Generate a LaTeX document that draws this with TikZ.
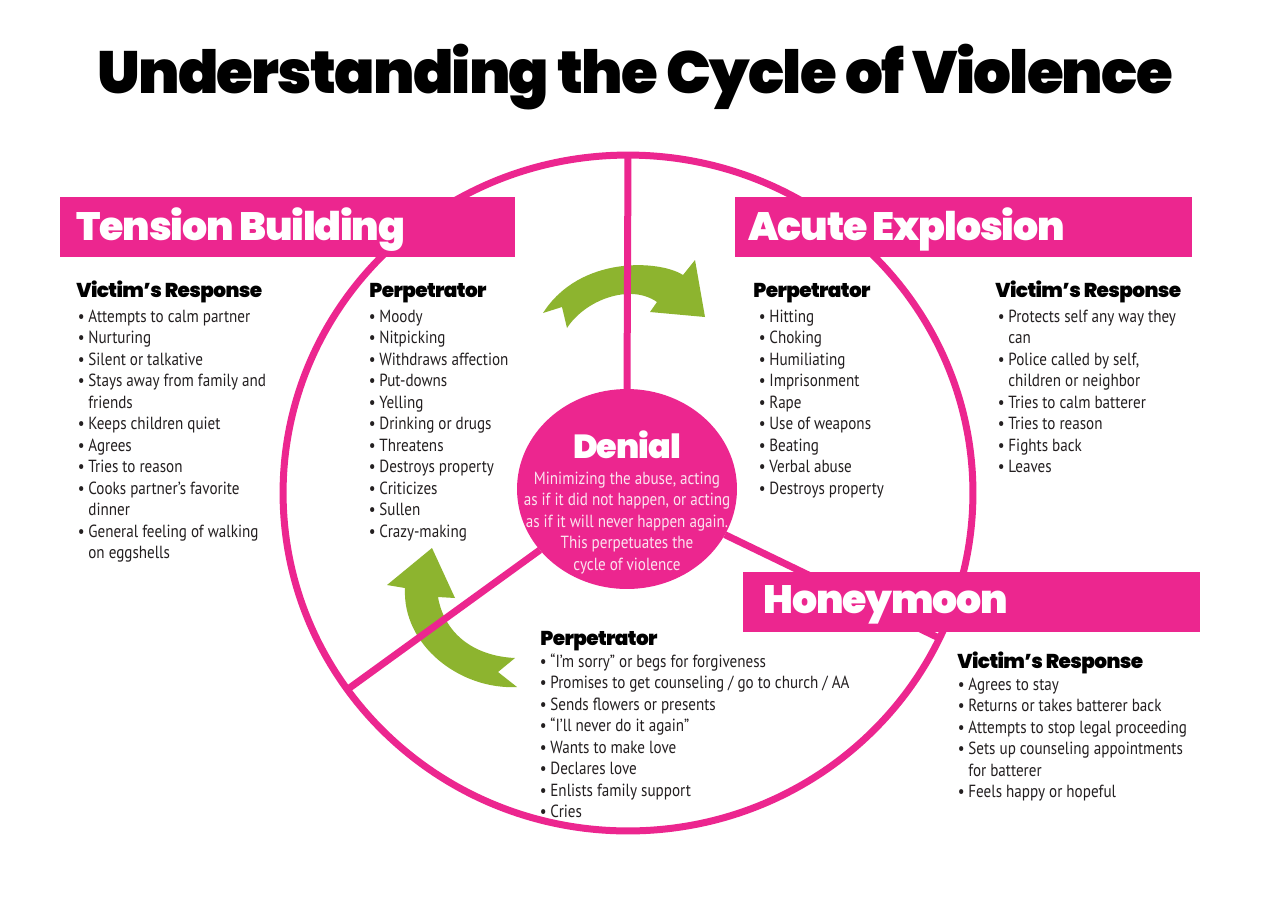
\documentclass[tikz,border=0pt]{standalone}
\usepackage{fontspec}
\setmainfont{PT Sans}[FakeStretch=0.86]
\IfFontExistsTF{Poppins ExtraBold}
  {\newfontfamily\heavyfont{Poppins ExtraBold}[LetterSpace=-3]}
  {\newfontfamily\heavyfont{Poppins}[LetterSpace=-3]}
\newcommand{\heavy}{\heavyfont\bfseries}
\usetikzlibrary{shapes.geometric}
\usepackage{xcolor}
\definecolor{cvpink}{HTML}{EC268F}
\definecolor{cvgreen}{HTML}{8DB42F}
\definecolor{cvlight}{HTML}{FCE3EF}
\definecolor{cvtext}{HTML}{231F20}
\newcommand{\bul}{\makebox[6pt][l]{\textbullet}}
\newcommand{\cont}{\hspace*{6pt}}

\begin{document}
\begin{tikzpicture}[x=0.02cm,y=-0.02cm]
  \tikzstyle{phase}=[rectangle,fill=cvpink,inner sep=0,minimum height=1.2cm,anchor=north west]
  \tikzstyle{phasename}=[anchor=base west,inner sep=0,text=white,font=\heavy\fontsize{22.5}{26}\selectfont]
  \tikzstyle{head}=[anchor=base west,inner sep=0,text=black,font=\heavy\fontsize{11.4}{13}\selectfont]
  \tikzstyle{items}=[anchor=base west,inner sep=0,text=cvtext,font=\fontsize{10}{12.24}\selectfont]
  \tikzstyle{spoke}=[draw=cvpink,line width=0.14cm]
  \fill[white](0,0) rectangle (1270,910);
  \useasboundingbox(0,0) rectangle (1270,910);
  \node(title) at (635,93) [anchor=base,inner sep=0,font=\heavy\fontsize{33.9}{40}\selectfont]{Understanding the Cycle of Violence};
  % the wheel
  \node(ring) at (628,493) [ellipse,draw=cvpink,line width=0.14cm,outer sep=0,inner sep=0,minimum width=13.8cm,minimum height=13.52cm]{};
  % green arrows
  \fill[cvgreen](543,313)--(562,307)--(567,328) .. controls (585,300) and (630,283) .. (657,302)
    --(650,312)--(705,317)--(695,260)--(683,275) .. controls (660,260) and (580,255) .. (543,313)--cycle;
  \fill[cvgreen](432,548)--(455,598)--(438,597) .. controls (444,632) and (472,656) .. (515,658)
    --(498,672)--(517,687) .. controls (460,690) and (402,645) .. (405,588)--(387,585)--cycle;
  \node(denial) at (627,489) [ellipse,fill=cvpink,inner sep=0,outer sep=0,minimum width=4.4cm,minimum height=4cm]{};
  \draw[spoke](denial.90)--(ring.90);
  \draw[spoke](denial.215)--(ring.215);
  \draw[spoke](denial.-25)--(ring.-25);
  \node(denial-name) at (627,458) [anchor=base,inner sep=0,text=white,font=\heavy\fontsize{19}{22}\selectfont]{Denial};
  \node(denial-text) at (627,484) [anchor=base,inner sep=0,text=cvlight,font=\fontsize{10}{12.24}\selectfont]{\begin{tabular}[t]{@{}c@{}}Minimizing the abuse, acting\\as if it did not happen, or acting\\as if it will never happen again.\\This perpetuates the\\cycle of violence\end{tabular}};
  % phase banners
  \node(tb-box) at (60,197) [phase,minimum width=9.1cm]{};
  \node(ae-box) at (735,197) [phase,minimum width=9.14cm]{};
  \node(hm-box) at (743,572) [phase,minimum width=9.14cm]{};
  \node(tb-name) at (76,240) [phasename]{Tension Building};
  \node(ae-name) at (748,240) [phasename]{Acute Explosion};
  \node(hm-name) at (763,613) [phasename]{Honeymoon};
  % tension building
  \node(tb-vic) at (76,297) [head]{Victim’s Response};
  \node(tb-vic-list) at (77.5,322) [items]{\begin{tabular}[t]{@{}l@{}}\bul Attempts to calm partner\\\bul Nurturing\\\bul Silent or talkative\\\bul Stays away from family and\\\cont friends\\\bul Keeps children quiet\\\bul Agrees\\\bul Tries to reason\\\bul Cooks partner’s favorite\\\cont dinner\\\bul General feeling of walking\\\cont on eggshells\end{tabular}};
  \node(tb-per) at (369,297) [head]{Perpetrator};
  \node(tb-per-list) at (368.5,322) [items]{\begin{tabular}[t]{@{}l@{}}\bul Moody\\\bul Nitpicking\\\bul Withdraws affection\\\bul Put-downs\\\bul Yelling\\\bul Drinking or drugs\\\bul Threatens\\\bul Destroys property\\\bul Criticizes\\\bul Sullen\\\bul Crazy-making\end{tabular}};
  % acute explosion
  \node(ae-per) at (753,297) [head]{Perpetrator};
  \node(ae-per-list) at (758.5,322) [items]{\begin{tabular}[t]{@{}l@{}}\bul Hitting\\\bul Choking\\\bul Humiliating\\\bul Imprisonment\\\bul Rape\\\bul Use of weapons\\\bul Beating\\\bul Verbal abuse\\\bul Destroys property\end{tabular}};
  \node(ae-vic) at (995,297) [head]{Victim’s Response};
  \node(ae-vic-list) at (997.5,322) [items]{\begin{tabular}[t]{@{}l@{}}\bul Protects self any way they\\\cont can\\\bul Police called by self,\\\cont children or neighbor\\\bul Tries to calm batterer\\\bul Tries to reason\\\bul Fights back\\\bul Leaves\end{tabular}};
  % honeymoon
  \node(hm-per) at (540,645) [head]{Perpetrator};
  \node(hm-per-list) at (539.5,667) [items]{\begin{tabular}[t]{@{}l@{}}\bul “I’m sorry” or begs for forgiveness\\\bul Promises to get counseling / go to church / AA\\\bul Sends flowers or presents\\\bul “I’ll never do it again”\\\bul Wants to make love\\\bul Declares love\\\bul Enlists family support\\\bul Cries\end{tabular}};
  \node(hm-vic) at (957,668) [head]{Victim’s Response};
  \node(hm-vic-list) at (957.5,690) [items]{\begin{tabular}[t]{@{}l@{}}\bul Agrees to stay\\\bul Returns or takes batterer back\\\bul Attempts to stop legal proceeding\\\bul Sets up counseling appointments\\\cont for batterer\\\bul Feels happy or hopeful\end{tabular}};
\end{tikzpicture}
\end{document}
